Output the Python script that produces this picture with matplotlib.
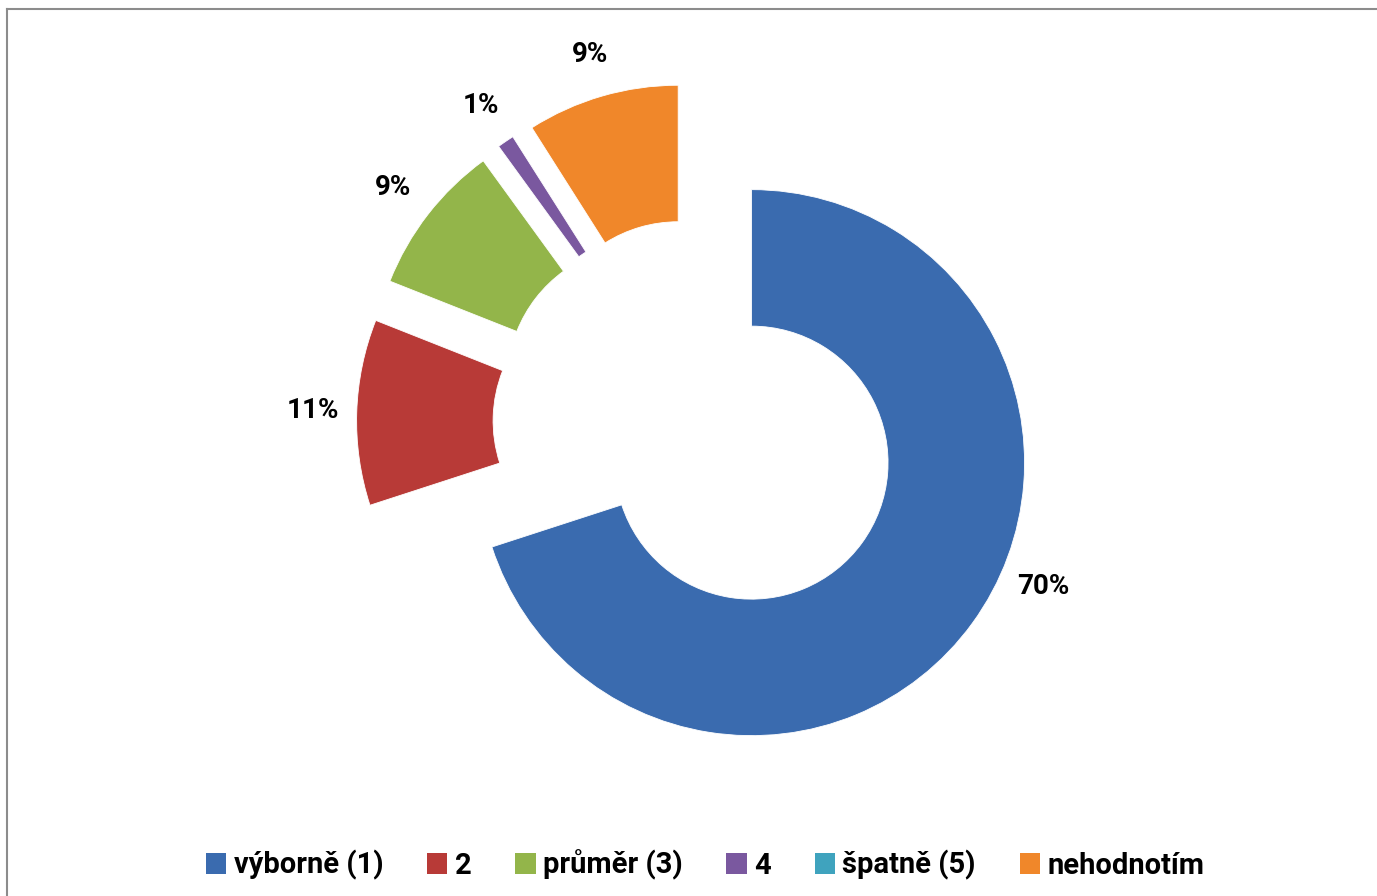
import numpy as np
import matplotlib.pyplot as plt
from matplotlib.lines import Line2D

# Data
labels = ["výborně (1)", "2", "průměr (3)", "4", "špatně (5)", "nehodnotím"]
values = [70, 11, 9, 1, 0, 9]
colors = ["#3A6BAF", "#B83A37", "#93B54A", "#7A589F", "#3FA3BE", "#F0872A"]

plt.rcParams['font.family'] = ['Roboto', 'DejaVu Sans']

W, H = 1377, 896
fig = plt.figure(figsize=(W / 100, H / 100), dpi=100)
ax = fig.add_axes([0, 0, 1, 1])

# pie geometry in pixels
R = 273.0
cx, cy = 697.0, 423.0
ex = 0.247
explode = [ex] * len(values)

wedges, _ = ax.pie(values, colors=colors, startangle=90, counterclock=False,
                   radius=1, explode=explode,
                   wedgeprops=dict(width=0.5, edgecolor="white", linewidth=0.6))

ax.set_xlim(-cx / R, (W - cx) / R)
ax.set_ylim(-(H - cy) / R, cy / R)
ax.set_aspect("equal")
ax.axis("off")

# percentage labels placed outside each exploded slice
total = sum(values)
for w, v in zip(wedges, values):
    if v == 0:
        continue
    mid0 = np.deg2rad((w.theta1 + w.theta2) / 2)
    mid = mid0
    if v == max(values):
        mid = mid0 + np.deg2rad(13)
    dist = 1.16
    x = ex * np.cos(mid0) + dist * np.cos(mid)
    y = ex * np.sin(mid0) + dist * np.sin(mid)
    ax.text(x, y, f"{v / total * 100:.0f}%", ha="center", va="center",
            fontsize=20, fontweight="bold", color="black")

# chart border (top and left only visible)
fig.add_artist(Line2D([7 / W, 1], [1 - 9 / H, 1 - 9 / H], color="#8C8C8C", lw=1.5))
fig.add_artist(Line2D([7 / W, 7 / W], [1 - 9 / H, 0], color="#8C8C8C", lw=1.5))

handles = [plt.Rectangle((0, 0), 1, 1, facecolor=c, edgecolor="none") for c in colors]
fig.legend(handles, labels, loc="center", bbox_to_anchor=(0.512, 1 - 865 / H),
           ncol=6, frameon=False, handlelength=0.7, handleheight=0.7,
           handletextpad=0.25, columnspacing=1.5,
           prop=dict(size=21, weight="bold"))

fig.savefig("out.png", dpi=100, facecolor="white")
